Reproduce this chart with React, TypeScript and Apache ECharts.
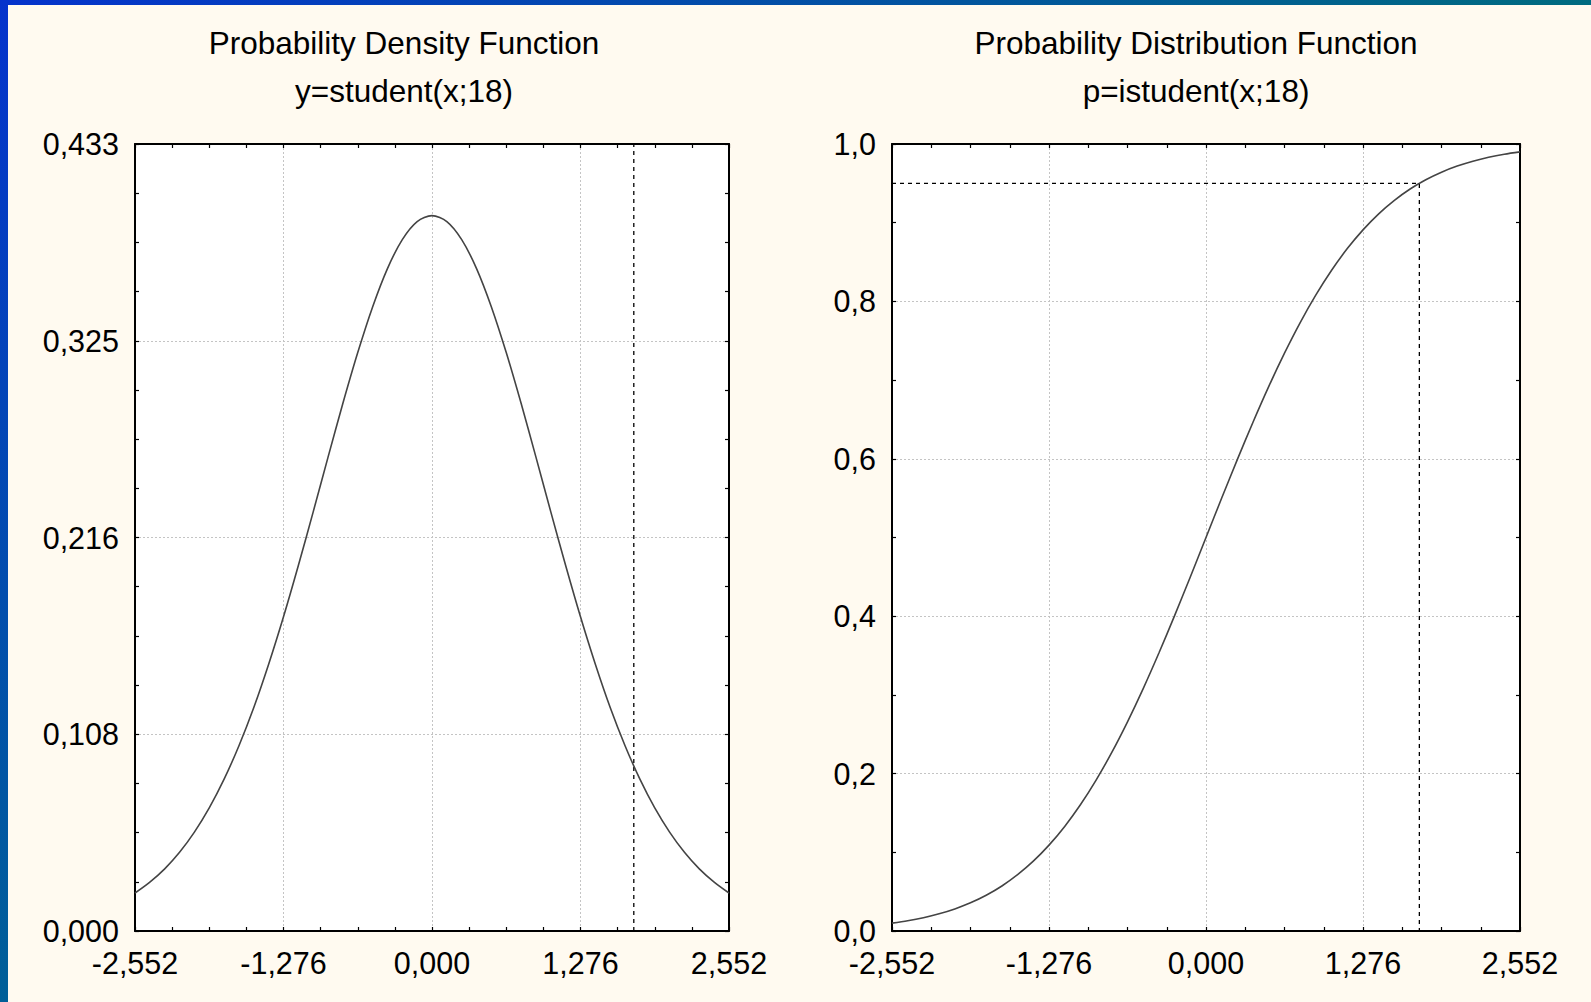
import React, { useEffect, useRef } from "react";
import * as echarts from "echarts";

const xValues = [
  -2.552, -2.4244, -2.2968, -2.1692, -2.0416, -1.914, -1.7864, -1.6588, -1.5312, -1.4036,
  -1.276, -1.1484, -1.0208, -0.8932, -0.7656, -0.638, -0.5104, -0.3828, -0.2552, -0.1276,
  0, 0.1276, 0.2552, 0.3828, 0.5104, 0.638, 0.7656, 0.8932, 1.0208, 1.1484,
  1.276, 1.4036, 1.5312, 1.6588, 1.7864, 1.914, 2.0416, 2.1692, 2.2968, 2.4244, 2.552,
];
const densityValues = [
  0.0209, 0.0269, 0.0342, 0.0433, 0.0544, 0.0677, 0.0835, 0.1019, 0.1229, 0.1467,
  0.1728, 0.201, 0.2305, 0.2606, 0.2902, 0.3181, 0.3432, 0.3643, 0.3802, 0.3901,
  0.3934, 0.3901, 0.3802, 0.3643, 0.3432, 0.3181, 0.2902, 0.2606, 0.2305, 0.201,
  0.1728, 0.1467, 0.1229, 0.1019, 0.0835, 0.0677, 0.0544, 0.0433, 0.0342, 0.0269, 0.0209,
];
const distributionValues = [
  0.01, 0.013, 0.0169, 0.0219, 0.0281, 0.0358, 0.0454, 0.0572, 0.0716, 0.0887,
  0.1091, 0.1329, 0.1604, 0.1918, 0.2269, 0.2658, 0.308, 0.3532, 0.4007, 0.4499,
  0.5, 0.5501, 0.5993, 0.6468, 0.692, 0.7342, 0.7731, 0.8082, 0.8396, 0.8671,
  0.8909, 0.9113, 0.9284, 0.9428, 0.9546, 0.9642, 0.9719, 0.9781, 0.9831, 0.987, 0.99,
];
const xMin = -2.552;
const xMax = 2.552;
const xStep = 1.276;
const densityMax = 0.4328;
const densityStep = 0.1082;
const distMax = 1.0;
const distStep = 0.2;
const criticalT = 1.734;
const criticalP = 0.95;
const titlesLeft = ["Probability Density Function", "y=student(x;18)"];
const titlesRight = ["Probability Distribution Function", "p=istudent(x;18)"];

const FONT = "'Liberation Sans', Arial, sans-serif";

export default function App() {
  const ref = useRef<HTMLDivElement>(null);
  useEffect(() => {
    if (!ref.current) return;
    const chart = echarts.init(ref.current, undefined, { renderer: "svg" });
    const fmt3 = (v: number) => v.toFixed(3).replace(".", ",").replace(/^-0,000$/, "0,000");
    const fmt1 = (v: number) => v.toFixed(1).replace(".", ",");
    const gridLine = { show: true, lineStyle: { color: "#c4c4c4", width: 1, type: [2, 2] } };
    const tick = { show: true, inside: true, length: 4, lineStyle: { color: "#000", width: 1.2 } };
    const minor = (n: number) => ({ show: true, splitNumber: n, length: 4, lineStyle: { color: "#000", width: 1.2 } });
    const axisLine = { show: true, onZero: false, lineStyle: { color: "#000", width: 2 } };
    const label = (f: (v: number) => string) => ({
      show: true, color: "#000", fontSize: 30.5, fontFamily: FONT, margin: 16, formatter: f,
    });
    const xAx = (grid: number, pos: string, main: boolean) => ({
      type: "value", gridIndex: grid, position: pos, min: xMin, max: xMax, interval: xStep,
      axisLine, axisTick: tick, minorTick: minor(4),
      axisLabel: main ? label(fmt3) : { show: false },
      splitLine: main ? gridLine : { show: false },
    });
    const yAx = (grid: number, pos: string, main: boolean, max: number, step: number, minorN: number, f: (v: number) => string) => ({
      type: "value", gridIndex: grid, position: pos, min: 0, max, interval: step,
      axisLine, axisTick: tick, minorTick: minor(minorN),
      axisLabel: main ? label(f) : { show: false },
      splitLine: main ? gridLine : { show: false },
    });
    const curve = (vals: number[], xi: number, yi: number) => ({
      type: "line", xAxisIndex: xi, yAxisIndex: yi, showSymbol: false, smooth: 0.3,
      data: xValues.map((x, i) => [x, vals[i]]),
      lineStyle: { color: "#444444", width: 1.6 }, silent: true,
    });
    const dashed = (data: number[][], xi: number, yi: number) => ({
      type: "line", xAxisIndex: xi, yAxisIndex: yi, showSymbol: false, data,
      lineStyle: { color: "#000", width: 1.3, type: [4, 4] }, silent: true,
    });
    const titleText = (x: number, y: number, t: string) => ({
      type: "text", x, y,
      style: { text: t, fill: "#000", font: `31.5px ${FONT}`, textAlign: "center", textVerticalAlign: "middle" },
    });
    chart.setOption({
      animation: false,
      backgroundColor: "#FFFAF0",
      grid: [
        { left: 135, top: 144, width: 594, height: 787, show: true, backgroundColor: "#fff", borderWidth: 0 },
        { left: 892, top: 144, width: 628, height: 787, show: true, backgroundColor: "#fff", borderWidth: 0 },
      ],
      xAxis: [xAx(0, "bottom", true), xAx(0, "top", false), xAx(1, "bottom", true), xAx(1, "top", false)],
      yAxis: [
        yAx(0, "left", true, densityMax, densityStep, 4, fmt3),
        yAx(0, "right", false, densityMax, densityStep, 4, fmt3),
        yAx(1, "left", true, distMax, distStep, 2, fmt1),
        yAx(1, "right", false, distMax, distStep, 2, fmt1),
      ],
      series: [
        dashed([[criticalT, 0], [criticalT, densityMax]], 0, 0),
        curve(densityValues, 0, 0),
        dashed([[xMin, criticalP], [criticalT, criticalP], [criticalT, 0]], 2, 2),
        curve(distributionValues, 2, 2),
      ],
      graphic: [
        {
          type: "rect", shape: { x: 0, y: 0, width: 1591, height: 5 },
          style: { fill: new echarts.graphic.LinearGradient(0, 0, 1, 0, [
            { offset: 0, color: "#0533CC" }, { offset: 1, color: "#006B80" }]) },
        },
        {
          type: "rect", shape: { x: 0, y: 0, width: 8, height: 1002 },
          style: { fill: new echarts.graphic.LinearGradient(0, 0, 0, 1, [
            { offset: 0, color: "#0533CC" }, { offset: 1, color: "#005F98" }]) },
        },
        titleText(404, 43, titlesLeft[0]),
        titleText(404, 91, titlesLeft[1]),
        titleText(1196, 43, titlesRight[0]),
        titleText(1196, 91, titlesRight[1]),
      ],
    });
    return () => chart.dispose();
  }, []);
  return (
    <div ref={ref} style={{ position: "fixed", left: 0, top: 0, width: 1591, height: 1002 }} />
  );
}
